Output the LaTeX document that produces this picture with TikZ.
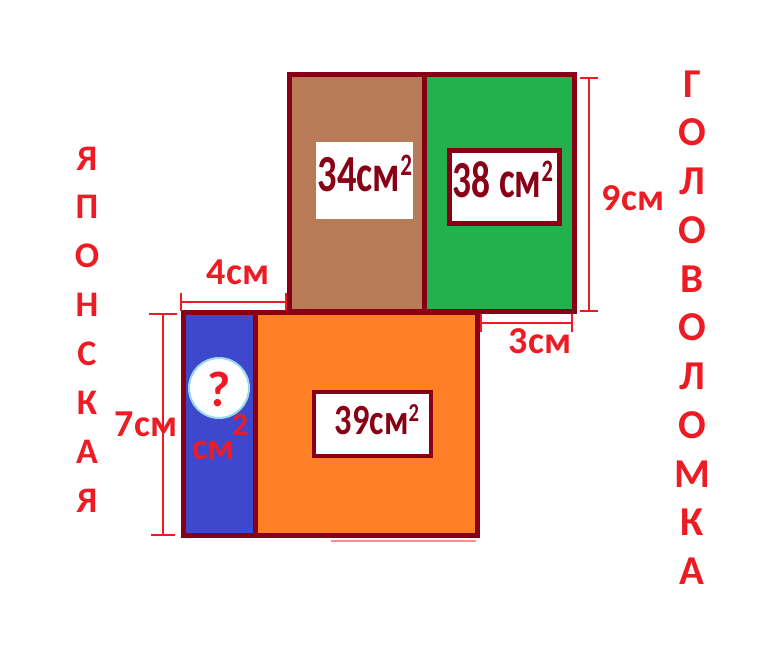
\documentclass[tikz,border=0pt]{standalone}
\usepackage{fontspec}
\setmainfont{Carlito}
\usepackage{tikz}
\usetikzlibrary{arrows.meta}

\definecolor{darkred}{HTML}{880015}
\definecolor{paintred}{HTML}{ED1C24}
\definecolor{brownfill}{HTML}{B97A57}
\definecolor{greenfill}{HTML}{22B14C}
\definecolor{orangefill}{HTML}{FF7F27}
\definecolor{bluefill}{HTML}{3F48CC}
\definecolor{lightblue}{HTML}{99D9EA}

\newcommand{\sqcm}[1]{#1см\raisebox{0.3em}{\scalebox{0.6}{2}}}

\begin{document}
\begin{tikzpicture}[
		x=1pt, y=-1pt,
		frame/.style={draw=darkred, line width=5pt},
		labelbox/.style={draw=darkred, line width=4.5pt, fill=white},
		dimline/.style={draw=paintred, line width=2pt, {Bar[width=18pt]}-{Bar[width=18pt]}},
		dimtext/.style={text=paintred, font=\fontsize{38}{38}\selectfont\bfseries, inner sep=0pt, anchor=base},
		areatext/.style={text=darkred, font=\fontsize{52}{52}\selectfont\bfseries, inner sep=0pt, anchor=base},
		letter/.style={text=paintred, font=\fontsize{41}{41}\selectfont\bfseries, inner sep=0pt, anchor=base}
	]
  \useasboundingbox (0,0) rectangle (770,651);
  \fill[bluefill] (183,312.5) rectangle (255.5,535);
  \fill[orangefill] (255.5,312.5) rectangle (477,535);
  \draw[frame] (183,312.5) rectangle (477,535);
  \draw[frame] (255.5,312.5) -- (255.5,535);
  \fill[brownfill] (289.5,74.5) rectangle (424.5,311);
  \fill[greenfill] (424.5,74.5) rectangle (574.5,311);
  \draw[frame] (289.5,74.5) rectangle (574.5,311);
  \draw[frame] (424.5,74.5) -- (424.5,311);
  \fill[white] (316,142) rectangle (413,219);
  \draw[labelbox] (449.5,150.5) rectangle (559.5,223.5);
  \draw[labelbox] (314,392) rectangle (431,456);
  \draw[red!45!white, line width=1.5pt] (331,541) -- (476,541);

  \node (a34) [areatext] at (365,191) {\scalebox{0.74}[1]{\sqcm{34}}};
  \node (a38) [areatext] at (503,197) {\scalebox{0.72}[1]{\sqcm{38 }}};
  \node (a39) [areatext, font=\fontsize{43}{43}\selectfont\bfseries] at (377,434) {\scalebox{0.8}[1]{\sqcm{39}}};

  \node (q) [circle, fill=white, draw=lightblue, line width=2pt, minimum size=60pt, inner sep=0pt] at (219,388) {};
  \node (qmark) [text=paintred, font=\fontsize{50}{50}\selectfont\bfseries, inner sep=0pt] at (219,389) {?};
  \node (qsq) [text=paintred, font=\fontsize{32}{32}\selectfont\bfseries, inner sep=0pt, anchor=base] at (240,435) {2};
  \node (qcm) [text=paintred, font=\fontsize{37}{37}\selectfont\bfseries, inner sep=0pt, anchor=base] at (213,459) {см};

  \coordinate (d9a) at (589,77);
  \coordinate (d9b) at (589,312);
  \coordinate (d3a) at (480,323);
  \coordinate (d3b) at (573,323);
  \coordinate (d4a) at (180,302);
  \coordinate (d4b) at (287,302);
  \coordinate (d7a) at (163,313);
  \coordinate (d7b) at (163,536);
  \draw[dimline] (d9a) -- (d9b);
  \draw[dimline] (d3a) -- (d3b);
  \draw[dimline] (d4a) -- (d4b);
  \draw[dimline, {Bar[width=28pt]}-{Bar[width=24pt]}] (d7a) -- (d7b);
  \node (l9) [dimtext] at (633,210) {9см};
  \node (l3) [dimtext] at (540,353) {3см};
  \node (l4) [dimtext] at (238,284) {4см};
  \node (l7) [dimtext] at (146,436) {7см};

  \foreach \ch [count=\i from 0] in {Я,П,О,Н,С,К,А,Я}
    \node (left\i) [letter, font=\fontsize{36}{36}\selectfont\bfseries] at (87,170+48.9*\i) {\ch};
  \foreach \ch [count=\i from 0] in {Г,О,Л,О,В,О,Л,О,М,К,А}
    \node (right\i) [letter] at (692,97+48.75*\i) {\ch};
\end{tikzpicture}
\end{document}
